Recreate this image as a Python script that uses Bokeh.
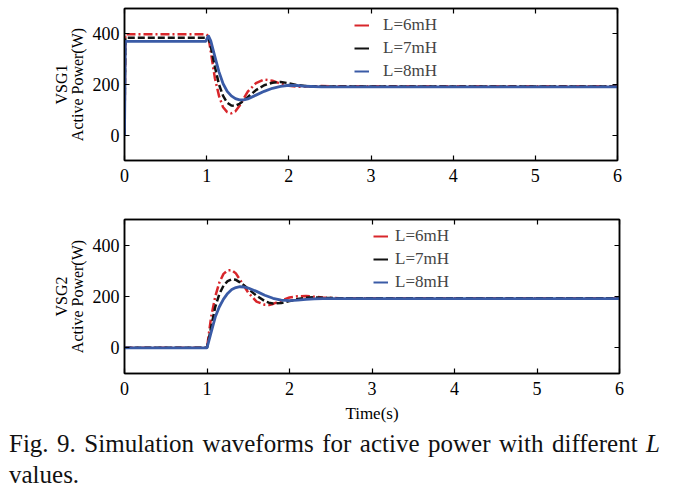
from bokeh.plotting import figure
from bokeh.models import LinearAxis, FixedTicker, Legend, LegendItem, Div, Range1d
from bokeh.layouts import column
from bokeh.embed import file_html
from bokeh.resources import INLINE

# ---- data ----
t1 = [0, 0.01, 0.99, 1.02, 1.05, 1.1, 1.15, 1.2, 1.25, 1.3, 1.35, 1.4, 1.45, 1.5,
      1.6, 1.7, 1.8, 1.9, 2.0, 2.1, 2.2, 2.4, 2.6, 3.0, 4.0, 5.0, 6.0]
vsg1_L6 = [0, 398, 398, 392, 330, 225, 155, 110, 91, 86, 94, 116, 145, 172,
           205, 220, 215, 203, 195, 191, 192, 194, 193, 193, 193, 193, 193]
vsg1_L7 = [0, 385, 385, 388, 350, 270, 200, 155, 128, 117, 116, 124, 136, 150,
           178, 197, 207, 210, 205, 198, 194, 192, 192, 192, 192, 192, 192]
vsg1_L8 = [0, 370, 370, 393, 372, 310, 250, 203, 173, 155, 144, 139, 139, 143,
           158, 173, 185, 193, 197, 196, 193, 191, 191, 191, 191, 191, 191]

t2 = [0, 1.0, 1.05, 1.1, 1.15, 1.2, 1.25, 1.3, 1.35, 1.4, 1.45, 1.5, 1.6, 1.7,
      1.75, 1.8, 1.9, 2.0, 2.1, 2.2, 2.3, 2.4, 2.6, 3.0, 4.0, 5.0, 6.0]
vsg2_L6 = [0, 0, 120, 200, 255, 288, 302, 303, 290, 265, 240, 215, 180, 168,
           167, 171, 184, 196, 201, 202, 199, 196, 193, 193, 193, 193, 193]
vsg2_L7 = [0, 0, 80, 160, 210, 242, 260, 267, 265, 255, 243, 230, 203, 182,
           176, 173, 175, 182, 190, 195, 197, 195, 193, 193, 193, 193, 193]
vsg2_L8 = [0, 0, 60, 120, 160, 190, 212, 227, 235, 238, 237, 233, 220, 205,
           199, 193, 186, 184, 186, 189, 191, 192, 192, 192, 192, 192, 192]

labels = ["L=6mH", "L=7mH", "L=8mH"]
x_ticks = [0, 1, 2, 3, 4, 5, 6]
y_ticks = [0, 200, 400]

FONT = "Liberation Serif"
RED = "#d8262b"
BLACK = "#111111"
BLUE = "#3a5ba6"


def style_axis(ax, ticks, show_labels=True):
    ax.ticker = FixedTicker(ticks=ticks)
    ax.major_tick_in = 5
    ax.major_tick_out = 0
    ax.minor_tick_line_color = None
    ax.axis_line_color = "black"
    ax.axis_line_width = 1.5
    ax.major_tick_line_width = 1.2
    ax.major_label_text_font = FONT
    ax.major_label_text_font_size = "18px"
    ax.major_label_text_color = "black"
    ax.major_label_standoff = 8
    ax.axis_label_text_font = FONT
    ax.axis_label_text_font_style = "normal"
    ax.axis_label_text_color = "black"
    if not show_labels:
        ax.major_label_overrides = {tk: "" for tk in ticks}
        ax.major_label_text_font_size = "1px"
        ax.major_label_standoff = 0


def make_panel(t, ys, ylabel, fw, fh, bl, br, bt, bb, leg_loc, leg_standoff, xlabel=None):
    p = figure(frame_width=fw, frame_height=fh, x_range=Range1d(0, 6),
               y_range=Range1d(-100, 500), output_backend="svg",
               toolbar_location=None, min_border_left=bl, min_border_right=br,
               min_border_top=bt, min_border_bottom=bb)
    p.grid.visible = False
    p.outline_line_color = "black"
    p.outline_line_width = 1.5
    p.background_fill_color = "white"
    p.border_fill_color = "white"

    style_axis(p.xaxis[0], x_ticks)
    style_axis(p.yaxis[0], y_ticks)
    p.yaxis.major_label_standoff = 5
    p.yaxis.axis_label = ylabel
    p.yaxis.axis_label_text_font_size = "16px"
    p.yaxis.axis_label_text_line_height = 0.9
    p.yaxis.axis_label_standoff = 4
    if xlabel:
        p.xaxis.axis_label = xlabel
        p.xaxis.axis_label_text_font_size = "17px"
        p.xaxis.axis_label_standoff = 6

    top = LinearAxis()
    style_axis(top, x_ticks, show_labels=False)
    p.add_layout(top, "above")
    right = LinearAxis()
    style_axis(right, y_ticks, show_labels=False)
    p.add_layout(right, "right")

    p.line(t, ys[0], line_color=RED, line_width=2.5, line_dash="9 3 2 3")
    p.line(t, ys[1], line_color=BLACK, line_width=2.5, line_dash="7 3")
    p.line(t, ys[2], line_color=BLUE, line_width=2.8)

    # solid short samples for the legend (single first point -> nothing drawn in plot)
    g6 = p.line(t[:1], ys[0][:1], line_color=RED, line_width=2)
    g7 = p.line(t[:1], ys[1][:1], line_color=BLACK, line_width=2)
    g8 = p.line(t[:1], ys[2][:1], line_color=BLUE, line_width=2)

    leg = Legend(items=[LegendItem(label=labels[0], renderers=[g6]),
                        LegendItem(label=labels[1], renderers=[g7]),
                        LegendItem(label=labels[2], renderers=[g8])],
                 location=leg_loc, border_line_color=None,
                 background_fill_alpha=0, label_text_font=FONT,
                 label_text_font_size="17px", glyph_width=15, glyph_height=20,
                 label_height=20, spacing=3, padding=0, margin=0,
                 label_standoff=leg_standoff)
    p.add_layout(leg)
    return p


p1 = make_panel(t1, [vsg1_L6, vsg1_L7, vsg1_L8], "VSG1\nActive Power(W)",
                493, 152, 124, 40, 8, 40, (230, 79), 14)
p2 = make_panel(t2, [vsg2_L6, vsg2_L7, vsg2_L8], "VSG2\nActive Power(W)",
                495, 154, 124, 38, 19, 55, (249, 81), 7, xlabel="Time(s)")

caption = Div(
    text=('<div style="font-family:\'Liberation Serif\'; font-size:25px; '
          'line-height:31px; text-align:justify; width:651px; margin-left:4px; '
          'margin-top:-5px; color:#111;">Fig. 9. Simulation waveforms for active '
          'power with different <i>L</i> values.</div>'),
    width=660)

layout = column(p1, p2, caption)

open("out.html", "w").write(file_html(layout, INLINE))
